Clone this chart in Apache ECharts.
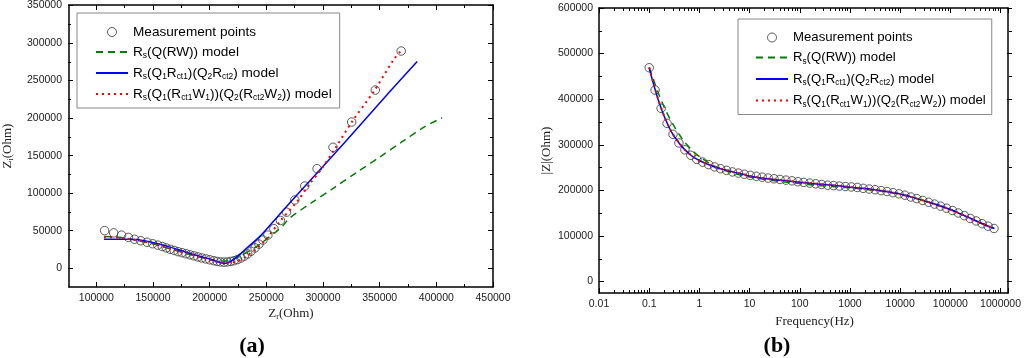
<!DOCTYPE html>
<html><head><meta charset="utf-8">
<script src="https://cdn.jsdelivr.net/npm/echarts@6/dist/echarts.min.js"></script>
<style>html,body{margin:0;padding:0;background:#fff}#c{width:1024px;height:358px}</style>
</head><body><div id="c"></div><script>
// ---------- (a) Nyquist data ----------
const nyqZr = [368800,345900,325000,308500,294400,283500,274700,267400,262000,256200,250900,246500,243000,239500,236000,233000,230000,227000,224000,221000,218000,215000,212000,209000,206000,203000,199500,196000,192500,189000,185500,182000,178500,175000,171500,168000,164500,161000,157500,153500,149000,144000,138500,133000,127500,121500,114500,106500];
const nyqZi = [288800,236900,194400,160800,132300,109300,90700,74500,63500,52500,44000,37500,32000,27000,22500,19000,16000,13500,11500,10000,9000,8300,8000,8300,9000,10000,11200,12400,13600,15000,16400,17800,19200,20600,22000,23600,25200,27000,28800,30700,32500,34500,36500,38500,41000,44000,47000,50000];
const greenZr = [106000,120000,135000,150000,165000,180000,195000,205000,213000,221000,230000,240000,250000,258000,264000,270000,290000,310000,330000,350000,370000,390000,405000];
const greenZi = [42000,41000,37000,32000,25500,19000,13000,10000,9500,12500,19000,28000,39000,48500,56000,66500,87500,107500,128000,148000,168500,188500,200000];
const blueZr = [106000,130000,145000,160000,180000,200000,213500,222000,232000,245000,260000,280000,320000,360000,383000];
const blueZi = [38400,38400,35500,30000,20500,12000,6500,13500,26500,44000,69500,103000,169000,237000,275000];
const redZr = [106000,115000,125000,140000,160000,180000,200000,213000,222000,230000,240000,250000,262000,278000,287000,297500,310500,325300,344400,362000,368000];
const redZi = [41000,41000,39500,36000,28000,19500,11000,6500,8500,14000,25500,40000,63000,91000,110500,130500,159500,194800,234700,277000,288000];

// ---------- (b) Bode data ----------
const bodeFreq = [0.1,0.131,0.173,0.227,0.298,0.391,0.514,0.675,0.887,1.16,1.53,2.01,2.64,3.47,4.55,5.98,7.85,10.3,13.6,17.8,23.4,30.7,40.4,53.0,69.7,91.4,120,158,207,272,358,470,617,811,1065,1400,1837,2415,3170,4170,5470,7180,9440,12400,16300,21400,28100,36900,48400,63700,83600,110000,144000,190000,249000,327000,430000,565000,741000];
const bodeMag = [469000,420000,380000,347000,323000,304000,289000,277000,268000,262000,256500,251500,247500,244000,240500,238000,235500,233000,231000,229000,227000,225500,224000,222500,221000,219000,217500,216000,214500,213000,211500,210500,209500,208500,207500,206500,204500,203000,201500,199500,197500,195000,192500,189500,185500,182000,178000,174000,170000,165500,161000,156000,150500,144500,138500,133000,127000,121500,116500];
const modelFreq = [0.1,0.12,0.15,0.2,0.25,0.3,0.4,0.5,0.7,1,1.5,2,3,5,7,10,20,50,100,200,500,1000,2000,5000,10000,20000,50000,100000,200000,500000,750000];
const greenMag = [469000,445000,415000,382000,360000,344000,322000,307000,289000,274000,261000,253000,245000,237000,233000,229500,224000,218500,215000,211500,208000,205500,202500,197500,191500,183000,169500,158000,143500,124000,116500];
const blueMag = [469000,436000,400000,362000,338000,322000,303000,290500,276000,265500,257000,251500,246000,239500,236000,231500,226000,221500,218000,214500,211000,207000,204000,198000,192000,183000,169500,158000,143500,124000,116500];
const redMag = [470000,437000,401000,362000,338500,322000,303500,290000,276500,265000,257000,251000,246000,239500,236500,232000,226500,222000,218000,215000,211000,207500,203500,198000,191500,183000,169500,158000,143500,124000,116000];

// ---------- axis ranges / tick steps ----------
const nyqXRange = [75000, 450000], nyqXLabelRange = [100000, 450000], nyqXStep = 50000;
const nyqYRange = [-25000, 350000], nyqYLabelRange = [0, 350000], nyqYStep = 50000;
const bodeXRange = [0.01, 1410000];
const bodeYRange = [-25000, 600000], bodeYLabelRange = [0, 600000], bodeYStep = 100000;

const seriesNames = ['Measurement points', 'Rs(Q(RW)) model', 'Rs(Q1Rct1)(Q2Rct2) model', 'Rs(Q1(Rct1W1))(Q2(Rct2W2)) model'];
const legendRich = {
  'Measurement points': 'Measurement points',
  'Rs(Q(RW)) model': 'R{s|s}(Q(RW)) model',
  'Rs(Q1Rct1)(Q2Rct2) model': 'R{s|s}(Q{s|1}R{s|ct1})(Q{s|2}R{s|ct2}) model',
  'Rs(Q1(Rct1W1))(Q2(Rct2W2)) model': 'R{s|s}(Q{s|1}(R{s|ct1}W{s|1}))(Q{s|2}(R{s|ct2}W{s|2})) model'
};

const zip = (a, b) => a.map((v, i) => [v, b[i]]);
const fmt = v => String(Number((+v).toPrecision(8)));
const labelFont = { fontFamily: 'Liberation Sans', fontSize: 10.5, color: '#1a1a1a' };
const nameStyle = { fontFamily: 'Liberation Serif', fontSize: 13, color: '#222',
  rich: { s: { fontFamily: 'Liberation Serif', fontSize: 8, color: '#222', verticalAlign: 'bottom', padding: [7, 0, 0, 0] } } };
const frameLine = { show: true, onZero: false, lineStyle: { color: '#000', width: 1.5 } };
const noLine = { show: false, onZero: false };
const tickStyle = { show: true, inside: true, length: 5, lineStyle: { color: '#000', width: 1 } };
const minorStyle = { show: true, splitNumber: 2, length: 3, lineStyle: { color: '#000', width: 1 } };

// Grid rectangles: main frames, plus overlay rects whose edges sit on the labelled value range
const gA = { left: 68, top: 5, width: 425, height: 282 };
const gB = { left: 599, top: 8, width: 413, height: 285 };
const gAx = { left: 68 + 425 * 25000 / 375000, top: 5, width: 425 * 350000 / 375000, height: 282 };
const gAy = { left: 68, top: 5, width: 425, height: 282 * 350000 / 375000 };
const gBy = { left: 599, top: 8, width: 413, height: 285 * 600000 / 625000 };

const hidden = g => ({ gridIndex: g, type: 'value', show: false, min: 0, max: 1, axisLine: noLine });
const frame = (g, type, range, pos, extra) => Object.assign({ gridIndex: g, type, min: range[0], max: range[1], position: pos,
  axisLine: frameLine, axisTick: { show: false }, axisLabel: { show: false }, splitLine: { show: false } }, extra || {});
const ticks = (g, range, step, pos, labels) => ({ gridIndex: g, type: 'value', min: range[0], max: range[1], interval: step, position: pos,
  axisLine: noLine, axisTick: tickStyle, minorTick: minorStyle, splitLine: { show: false }, minorSplitLine: { show: false },
  axisLabel: Object.assign({ show: labels, formatter: fmt, margin: 6, showMinLabel: true, showMaxLabel: true }, labelFont) });
const logAxis = (pos, labels, extra) => Object.assign({ gridIndex: 1, type: 'log', logBase: 10, min: bodeXRange[0], max: bodeXRange[1], position: pos,
  axisLine: frameLine, axisTick: tickStyle, minorTick: { show: true, splitNumber: 9, length: 3, lineStyle: { color: '#000', width: 1 } },
  splitLine: { show: false }, minorSplitLine: { show: false },
  axisLabel: Object.assign({ show: labels, formatter: fmt, margin: 6, showMaxLabel: false }, labelFont) }, extra || {});

const xAxes = [
  frame(0, 'value', nyqXRange, 'bottom', { name: 'Z{s|r}(Ohm)', nameLocation: 'middle', nameGap: 19, nameTextStyle: Object.assign({}, nameStyle, { padding: [0, 0, 0, 20] }) }),
  frame(0, 'value', nyqXRange, 'top'),
  logAxis('bottom', true, { name: 'Frequency(Hz)', nameLocation: 'middle', nameGap: 19, nameTextStyle: Object.assign({}, nameStyle, { padding: [0, 0, 0, 22] }) }),
  logAxis('top', false),
  ticks(2, nyqXLabelRange, nyqXStep, 'bottom', true),
  ticks(2, nyqXLabelRange, nyqXStep, 'top', false),
  hidden(3),
  hidden(4)
];
const yAxes = [
  frame(0, 'value', nyqYRange, 'left', { name: 'Z{s|i}(Ohm)', nameLocation: 'middle', nameGap: 54, nameTextStyle: nameStyle }),
  frame(0, 'value', nyqYRange, 'right'),
  frame(1, 'value', bodeYRange, 'left', { name: '|Z|(Ohm)', nameLocation: 'middle', nameGap: 46, nameTextStyle: nameStyle }),
  frame(1, 'value', bodeYRange, 'right'),
  hidden(2),
  ticks(3, nyqYLabelRange, nyqYStep, 'left', true),
  ticks(3, nyqYLabelRange, nyqYStep, 'right', false),
  ticks(4, bodeYLabelRange, bodeYStep, 'left', true),
  ticks(4, bodeYLabelRange, bodeYStep, 'right', false)
];

const circleStyle = { color: 'rgba(255,255,255,0)', borderColor: '#333', borderWidth: 1 };
function makeSeries(xi, yi, meas, green, blue, red) {
  return [
    { name: seriesNames[0], type: 'scatter', xAxisIndex: xi, yAxisIndex: yi, data: meas, symbol: 'circle', symbolSize: 8.5, itemStyle: circleStyle, z: 2 },
    { name: seriesNames[1], type: 'line', xAxisIndex: xi, yAxisIndex: yi, data: green, symbol: 'none', showSymbol: false, smooth: 0.3,
      lineStyle: { color: '#008000', width: 1.5, type: [7, 5] }, itemStyle: { color: '#008000' }, z: 3 },
    { name: seriesNames[2], type: 'line', xAxisIndex: xi, yAxisIndex: yi, data: blue, symbol: 'none', showSymbol: false, smooth: 0.3,
      lineStyle: { color: '#0000ff', width: 1.5, type: 'solid' }, itemStyle: { color: '#0000ff' }, z: 4 },
    { name: seriesNames[3], type: 'line', xAxisIndex: xi, yAxisIndex: yi, data: red, symbol: 'none', showSymbol: false, smooth: 0.3,
      lineStyle: { color: '#ff0000', width: 2, type: [2, 4] }, itemStyle: { color: '#ff0000' }, z: 5 }
  ];
}

const series = [].concat(
  makeSeries(0, 0, zip(nyqZr, nyqZi), zip(greenZr, greenZi), zip(blueZr, blueZi), zip(redZr, redZi)),
  makeSeries(2, 2, zip(bodeFreq, bodeMag), zip(modelFreq, greenMag), zip(modelFreq, blueMag), zip(modelFreq, redMag))
);

const hiddenSym = { color: 'rgba(0,0,0,0)', borderWidth: 0, borderColor: 'rgba(0,0,0,0)', opacity: 0 };
function legendCfg(left, top, fs, pad, gap) {
  return {
    orient: 'vertical', left, top, padding: pad, itemWidth: 32, itemHeight: 9, itemGap: gap,
    borderColor: '#888', borderWidth: 1, backgroundColor: '#fff', selectedMode: false, z: 10,
    data: [
      { name: seriesNames[0], itemStyle: { borderColor: '#333', borderWidth: 1, color: 'rgba(0,0,0,0)' } },
      { name: seriesNames[1], itemStyle: hiddenSym },
      { name: seriesNames[2], itemStyle: hiddenSym },
      { name: seriesNames[3], itemStyle: hiddenSym }
    ],
    formatter: n => legendRich[n],
    textStyle: { fontFamily: 'Liberation Sans', fontSize: fs, color: '#000',
      rich: { s: { fontFamily: 'Liberation Sans', fontSize: fs * 0.62, color: '#000', verticalAlign: 'bottom', padding: [8, 0, 0, 0] } } }
  };
}

const chart = echarts.init(document.getElementById('c'), null, { renderer: 'canvas' });
chart.setOption({
  animation: false,
  backgroundColor: '#fff',
  grid: [gA, gB, gAx, gAy, gBy],
  xAxis: xAxes,
  yAxis: yAxes,
  legend: [legendCfg(77, 13, 13.6, [12, 8, 6, 18], 6), legendCfg(738, 19, 13.2, [12, 6, 6, 17], 7)],
  series,
  graphic: [
    { type: 'text', x: 252, y: 346, style: { text: '(a)', textAlign: 'center', textVerticalAlign: 'middle', font: 'bold 22px "Liberation Serif"', fill: '#000' } },
    { type: 'text', x: 777, y: 346, style: { text: '(b)', textAlign: 'center', textVerticalAlign: 'middle', font: 'bold 22px "Liberation Serif"', fill: '#000' } }
  ]
});
</script></body></html>
